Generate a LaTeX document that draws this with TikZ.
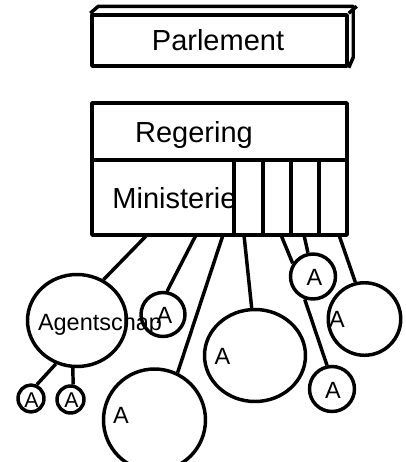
\documentclass[tikz,border=0pt]{standalone}
\usepackage{fontspec}
\setmainfont{Liberation Sans}
\usetikzlibrary{shapes.geometric}
\tikzset{
  ln/.style={line width=2.6pt, line join=round},
  circ/.style={ellipse, draw, ln, inner sep=0pt},
  big/.style={font=\fontsize{21.75pt}{24pt}\selectfont, inner sep=0pt, anchor=base},
  lbl/.style={font=\fontsize{17.6pt}{20pt}\selectfont, inner sep=0pt, anchor=base},
  sml/.style={font=\fontsize{16pt}{18pt}\selectfont, inner sep=0pt, anchor=base}
}
\begin{document}
\begin{tikzpicture}[x=0.75pt,y=-0.75pt]
\clip (0,0) rectangle (405,462);
\fill[white] (0,0) rectangle (405,462);
% Parlement box
\node[draw, ln, minimum width=191.25pt, minimum height=38.25pt, inner sep=0pt] (parl) at (219.5,40.5) {};
\draw[ln] (parl.north west) -- ++(8,-7) -- ++(255,0) -- ++(0,51) -- (parl.south east);
\draw[ln] (parl.north east) -- ++(8,-7);
\node[big] (parltxt) at (218,50) {Parlement};
% Regering / Ministerie box
\node[draw, ln, minimum width=191.25pt, minimum height=99pt, inner sep=0pt] (gov) at (219.5,169) {};
\coordinate (d1) at (92,160); \coordinate (d2) at (347,160);
\draw[ln] (d1) -- (d2);
\foreach \x in {234,263,291,319} \draw[ln] (\x,160) -- (\x,235);
\node[big] (reg) at (194,142) {Regering};
\node[big] (min) at (174.5,208) {Ministerie};
% connector start points on box bottom
\coordinate (p1) at (147,235);
\coordinate (p2) at (196,235);
\coordinate (p3) at (223,235);
\coordinate (p4) at (244,235);
\coordinate (p5) at (281,235);
\coordinate (p6) at (304,235);
\coordinate (p7) at (339,235);
% circles
\node[circ, minimum width=74.25pt, minimum height=69pt] (ag) at (77,320.5) {};
\node[circ, minimum width=33pt, minimum height=33pt] (sa1) at (163,314.5) {};
\node[circ, minimum width=19.5pt, minimum height=20.25pt] (a1) at (31,398.5) {};
\node[circ, minimum width=20.25pt, minimum height=20.25pt] (a2) at (70.5,399.5) {};
\node[circ, minimum width=76.5pt, minimum height=76.5pt] (b1) at (154.5,420) {};
\node[circ, minimum width=75.75pt, minimum height=69pt] (b2) at (255,355.5) {};
\node[circ, minimum width=33.75pt, minimum height=33.75pt] (sa2) at (313,276.5) {};
\node[circ, minimum width=33.75pt, minimum height=33.75pt] (sa3) at (332,389) {};
\node[circ, minimum width=54.4pt, minimum height=54.4pt] (b3) at (364.5,319) {};
% connectors
\draw[ln] (p1) -- (ag.57);
\draw[ln] (ag.244) -- (a1.67);
\draw[ln] (ag.265) -- (a2.80);
\draw[ln] (p2) -- (sa1.80);
\draw[ln] (p3) -- (b1.64);
\draw[ln] (p4) -- (b2.94);
\draw[ln] (p5) -- (sa2.147);
\draw[ln] (p6) -- (sa2.102);
\draw[ln] (sa2.250) -- (sa3.102);
\draw[ln] (p7) -- (b3.104);
% labels
\node[lbl] (agt) at (100,330) {Agentschap};
\node[lbl] (sa1t) at (164.5,323) {A};
\node[sml] (a1t) at (31.5,407) {A};
\node[sml] (a2t) at (71.5,407.5) {A};
\node[lbl] (b1t) at (121,423) {A};
\node[lbl] (b2t) at (222.5,364) {A};
\node[lbl] (sa2t) at (314.5,285) {A};
\node[lbl] (b3t) at (337,327) {A};
\node[lbl] (sa3t) at (333,398) {A};
\end{tikzpicture}
\end{document}
